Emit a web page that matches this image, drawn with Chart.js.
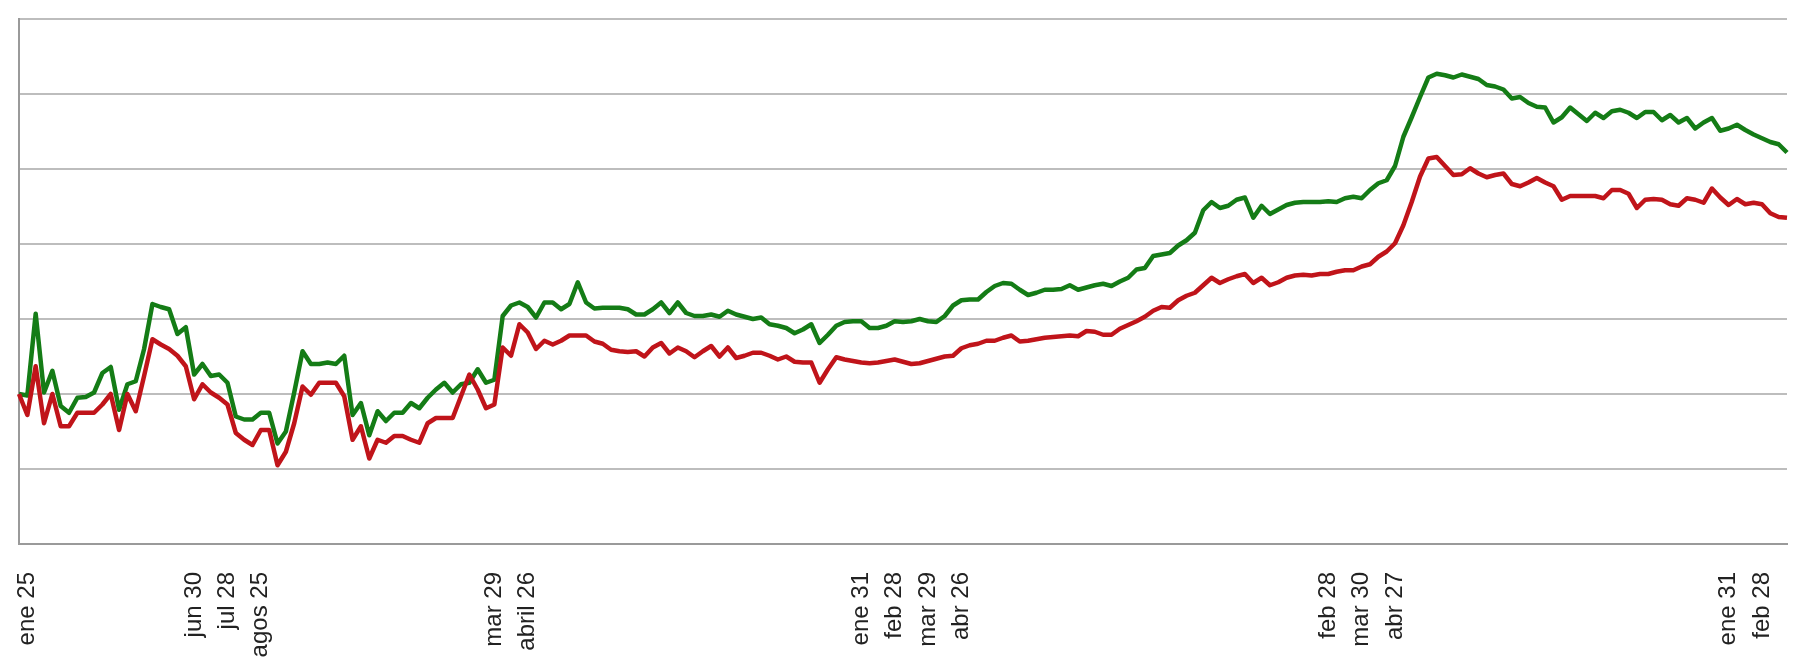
<!DOCTYPE html>
<html>
<head>
<meta charset="utf-8">
<script src="https://cdn.jsdelivr.net/npm/chart.js@4"></script>
<style>
  html, body { margin: 0; padding: 0; background: #fff; }
  canvas { display: block; }
</style>
</head>
<body>
<canvas id="lineChart" width="1797" height="668"></canvas>
<script>
// weekly values (one gridline = 10 units)
const greenValues = [
  20.0, 19.8, 30.7, 20.2, 23.1, 18.4, 17.5, 19.5, 19.6, 20.2,
  22.8, 23.6, 17.9, 21.3, 21.7, 26.0, 32.0, 31.6, 31.3, 28.0,
  28.9, 22.6, 24.0, 22.4, 22.6, 21.5, 17.0, 16.6, 16.6, 17.5,
  17.5, 13.4, 15.0, 20.2, 25.7, 24.0, 24.0, 24.2, 24.0, 25.1,
  17.2, 18.8, 14.5, 17.7, 16.4, 17.5, 17.5, 18.8, 18.1, 19.5,
  20.6, 21.5, 20.2, 21.3, 21.5, 23.3, 21.5, 21.9, 30.4, 31.8,
  32.2, 31.6, 30.2, 32.2, 32.2, 31.3, 32.0, 34.9, 32.2, 31.4,
  31.5, 31.5, 31.5, 31.3, 30.6, 30.6, 31.3, 32.2, 30.8, 32.2,
  30.8, 30.4, 30.4, 30.6, 30.3, 31.1, 30.6, 30.3, 30.0, 30.2,
  29.3, 29.1, 28.8, 28.1, 28.6, 29.3, 26.8, 27.9, 29.1, 29.6,
  29.7, 29.7, 28.8, 28.8, 29.1, 29.7, 29.6, 29.7, 30.0, 29.7,
  29.6, 30.4, 31.8, 32.5, 32.6, 32.6, 33.6, 34.4, 34.8, 34.7,
  33.9, 33.2, 33.5, 33.9, 33.9, 34.0, 34.5, 33.9, 34.2, 34.5,
  34.7, 34.4, 35.0, 35.5, 36.6, 36.8, 38.4, 38.6, 38.8, 39.8,
  40.5, 41.5, 44.5, 45.6, 44.8, 45.1, 45.9, 46.2, 43.5, 45.1,
  44.0, 44.6, 45.2, 45.5, 45.6, 45.6, 45.6, 45.7, 45.6, 46.1,
  46.3, 46.1, 47.2, 48.1, 48.5, 50.4, 54.3, 56.9, 59.6, 62.2,
  62.7, 62.5, 62.2, 62.6, 62.3, 62.0, 61.2, 61.0, 60.6, 59.4,
  59.6, 58.8, 58.3, 58.2, 56.2, 56.9, 58.2, 57.3, 56.4, 57.5,
  56.8, 57.7, 57.9, 57.5, 56.8, 57.6, 57.6, 56.5, 57.2, 56.2,
  56.8, 55.4, 56.2, 56.8, 55.1, 55.4, 55.9, 55.2, 54.6, 54.1,
  53.6, 53.3, 52.2
];

const redValues = [
  20.0, 17.2, 23.7, 16.1, 20.0, 15.7, 15.7, 17.5, 17.5, 17.5,
  18.6, 20.0, 15.2, 20.0, 17.7, 22.4, 27.3, 26.6, 26.0, 25.1,
  23.7, 19.3, 21.3, 20.2, 19.5, 18.6, 14.8, 13.9, 13.2, 15.2,
  15.2, 10.5, 12.3, 16.1, 21.0, 19.9, 21.5, 21.5, 21.5, 19.7,
  13.9, 15.7, 11.4, 13.9, 13.5, 14.4, 14.4, 13.9, 13.5, 16.1,
  16.8, 16.8, 16.8, 19.7, 22.6, 20.6, 18.1, 18.6, 26.2, 25.1,
  29.3, 28.2, 26.0, 27.1, 26.6, 27.1, 27.8, 27.8, 27.8, 27.0,
  26.7, 25.9, 25.7, 25.6, 25.7, 25.0, 26.2, 26.8, 25.4, 26.2,
  25.7, 24.9, 25.7, 26.4, 25.0, 26.2, 24.8, 25.1, 25.5, 25.5,
  25.1, 24.6, 25.0, 24.3, 24.2, 24.2, 21.5, 23.3, 24.9, 24.6,
  24.4, 24.2, 24.1, 24.2, 24.4, 24.6, 24.3, 24.0, 24.1, 24.4,
  24.7, 25.0, 25.1, 26.1, 26.5, 26.7, 27.1, 27.1, 27.5, 27.8,
  27.0, 27.1, 27.3, 27.5, 27.6, 27.7, 27.8, 27.7, 28.4, 28.3,
  27.9, 27.9, 28.7, 29.2, 29.7, 30.3, 31.1, 31.6, 31.5, 32.5,
  33.1, 33.5, 34.5, 35.5, 34.8, 35.3, 35.7, 36.0, 34.8, 35.5,
  34.5, 34.9, 35.5, 35.8, 35.9, 35.8, 36.0, 36.0, 36.3, 36.5,
  36.5, 37.0, 37.3, 38.3, 39.0, 40.1, 42.5, 45.6, 49.0, 51.4,
  51.6, 50.4, 49.2, 49.3, 50.1, 49.4, 48.9, 49.2, 49.4, 48.0,
  47.7, 48.2, 48.8, 48.2, 47.7, 45.9, 46.4, 46.4, 46.4, 46.4,
  46.1, 47.2, 47.2, 46.7, 44.8, 45.9, 46.0, 45.9, 45.3, 45.1,
  46.1, 45.9, 45.5, 47.4, 46.2, 45.2, 46.0, 45.3, 45.5, 45.3,
  44.1, 43.6, 43.5
];

// tick labels and the week they sit on
const tickNames = [
  "ene 25", "jun 30", "jul 28", "agos 25", "mar 29", "abril 26",
  "ene 31", "feb 28", "mar 29", "abr 26",
  "feb 28", "mar 30", "abr 27", "ene 31", "feb 28"
];
const tickWeeks = [1, 21, 25, 29, 57, 61, 101, 105, 109, 113, 157, 161, 165, 205, 209];

const labels = greenValues.map(() => "");
tickWeeks.forEach((w, k) => { labels[w] = tickNames[k]; });

const ctx = document.getElementById("lineChart");

new Chart(ctx, {
  type: "line",
  data: {
    labels: labels,
    datasets: [
      {
        label: "rojo",
        data: redValues,
        borderColor: "#c0141a",
        borderWidth: 4.5,
        pointRadius: 0,
        tension: 0,
        borderJoinStyle: "round"
      },
      {
        label: "verde",
        data: greenValues,
        borderColor: "#147c16",
        borderWidth: 4.5,
        pointRadius: 0,
        tension: 0,
        borderJoinStyle: "round"
      }
    ]
  },
  options: {
    responsive: false,
    animation: false,
    devicePixelRatio: 1,
    layout: { padding: { left: 19, right: 10, top: 19, bottom: 0 } },
    plugins: {
      legend: { display: false },
      tooltip: { enabled: false }
    },
    scales: {
      x: {
        offset: false,
        grid: { display: false, drawTicks: false },
        border: { display: true, color: "#9a9a9a", width: 2 },
        ticks: {
          autoSkip: false,
          maxRotation: 90,
          minRotation: 90,
          padding: 28,
          color: "#222",
          font: { family: "'Liberation Sans', Arial, sans-serif", size: 24 }
        },
        afterFit: (scale) => {
          scale.height = 124;
          scale.paddingLeft = 0;
          scale.paddingRight = 0;
        }
      },
      y: {
        min: 0,
        max: 70,
        ticks: { display: false, stepSize: 10 },
        grid: { color: "#bdbdbd", lineWidth: 2, drawTicks: false },
        border: { display: true, color: "#9a9a9a", width: 2 },
        afterFit: (scale) => {
          scale.width = 0;
          scale.paddingTop = 0;
          scale.paddingBottom = 0;
        }
      }
    }
  }
});
</script>
</body>
</html>
